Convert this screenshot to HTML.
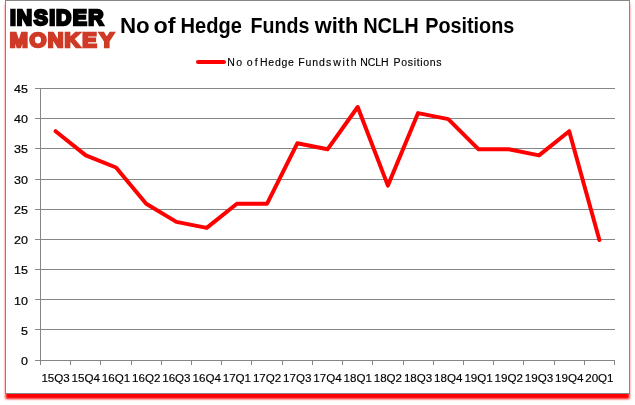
<!DOCTYPE html>
<html lang="en"><head><meta charset="utf-8"><title>No of Hedge Funds with NCLH Positions</title>
<style>html,body{margin:0;padding:0;background:#fff}svg{display:block}text{font-family:"Liberation Sans",sans-serif;font-kerning:none}</style></head><body>
<svg width="635" height="405" viewBox="0 0 635 405">
<defs><filter id="b" x="-5%" y="-5%" width="110%" height="110%"><feGaussianBlur stdDeviation="1.3"/></filter></defs>
<rect x="5.5" y="4" width="624" height="395" fill="#f00" filter="url(#b)"/>
<rect x="5.5" y="0.5" width="624" height="393" fill="#fff" stroke="#868686" stroke-width="1"/>
<g stroke="#868686" stroke-width="1" shape-rendering="crispEdges">
<line x1="35" y1="360.5" x2="615" y2="360.5"/>
<line x1="35" y1="329.5" x2="615" y2="329.5"/>
<line x1="35" y1="299.5" x2="615" y2="299.5"/>
<line x1="35" y1="269.5" x2="615" y2="269.5"/>
<line x1="35" y1="239.5" x2="615" y2="239.5"/>
<line x1="35" y1="209.5" x2="615" y2="209.5"/>
<line x1="35" y1="179.5" x2="615" y2="179.5"/>
<line x1="35" y1="148.5" x2="615" y2="148.5"/>
<line x1="35" y1="118.5" x2="615" y2="118.5"/>
<line x1="35" y1="88.5" x2="615" y2="88.5"/>
<line x1="40.5" y1="88.5" x2="40.5" y2="360.5"/>
<line x1="40.5" y1="360.5" x2="40.5" y2="365"/>
<line x1="70.5" y1="360.5" x2="70.5" y2="365"/>
<line x1="100.5" y1="360.5" x2="100.5" y2="365"/>
<line x1="131.5" y1="360.5" x2="131.5" y2="365"/>
<line x1="161.5" y1="360.5" x2="161.5" y2="365"/>
<line x1="191.5" y1="360.5" x2="191.5" y2="365"/>
<line x1="221.5" y1="360.5" x2="221.5" y2="365"/>
<line x1="251.5" y1="360.5" x2="251.5" y2="365"/>
<line x1="282.5" y1="360.5" x2="282.5" y2="365"/>
<line x1="312.5" y1="360.5" x2="312.5" y2="365"/>
<line x1="342.5" y1="360.5" x2="342.5" y2="365"/>
<line x1="372.5" y1="360.5" x2="372.5" y2="365"/>
<line x1="403.5" y1="360.5" x2="403.5" y2="365"/>
<line x1="433.5" y1="360.5" x2="433.5" y2="365"/>
<line x1="463.5" y1="360.5" x2="463.5" y2="365"/>
<line x1="493.5" y1="360.5" x2="493.5" y2="365"/>
<line x1="523.5" y1="360.5" x2="523.5" y2="365"/>
<line x1="554.5" y1="360.5" x2="554.5" y2="365"/>
<line x1="584.5" y1="360.5" x2="584.5" y2="365"/>
<line x1="614.5" y1="360.5" x2="614.5" y2="365"/>
</g>
<g font-size="11.5" fill="#000" stroke="#000" stroke-width="0.2" text-anchor="end">
<text transform="translate(28,365.0) scale(1.09,1)">0</text>
<text transform="translate(28,334.8) scale(1.09,1)">5</text>
<text transform="translate(28,304.6) scale(1.09,1)">10</text>
<text transform="translate(28,274.3) scale(1.09,1)">15</text>
<text transform="translate(28,244.1) scale(1.09,1)">20</text>
<text transform="translate(28,213.9) scale(1.09,1)">25</text>
<text transform="translate(28,183.7) scale(1.09,1)">30</text>
<text transform="translate(28,153.4) scale(1.09,1)">35</text>
<text transform="translate(28,123.2) scale(1.09,1)">40</text>
<text transform="translate(28,93.0) scale(1.09,1)">45</text>
</g>
<g font-size="11.6" fill="#000" stroke="#000" stroke-width="0.15" text-anchor="middle">
<text x="55.6" y="382.0">15Q3</text>
<text x="85.8" y="382.0">15Q4</text>
<text x="116.0" y="382.0">16Q1</text>
<text x="146.2" y="382.0">16Q2</text>
<text x="176.4" y="382.0">16Q3</text>
<text x="206.7" y="382.0">16Q4</text>
<text x="236.9" y="382.0">17Q1</text>
<text x="267.1" y="382.0">17Q2</text>
<text x="297.3" y="382.0">17Q3</text>
<text x="327.5" y="382.0">17Q4</text>
<text x="357.7" y="382.0">18Q1</text>
<text x="387.9" y="382.0">18Q2</text>
<text x="418.1" y="382.0">18Q3</text>
<text x="448.3" y="382.0">18Q4</text>
<text x="478.6" y="382.0">19Q1</text>
<text x="508.8" y="382.0">19Q2</text>
<text x="539.0" y="382.0">19Q3</text>
<text x="569.2" y="382.0">19Q4</text>
<text x="599.4" y="382.0">20Q1</text>
</g>
<polyline points="55.6,131.2 85.8,155.4 116.0,167.5 146.2,203.7 176.4,221.9 206.7,227.9 236.9,203.7 267.1,203.7 297.3,143.3 327.5,149.3 357.7,107.0 387.9,185.6 418.1,113.1 448.3,119.1 478.6,149.3 508.8,149.3 539.0,155.4 569.2,131.2 599.4,240.0" fill="none" stroke="#f00" stroke-width="4" stroke-linecap="round" stroke-linejoin="round"/>
<text y="32.6" font-size="21.5" font-weight="bold" fill="#000"><tspan x="120.01" textLength="29.77" lengthAdjust="spacingAndGlyphs">No</tspan> <tspan x="153.59" textLength="22.07" lengthAdjust="spacingAndGlyphs">of</tspan> <tspan x="180.46" textLength="61.43" lengthAdjust="spacingAndGlyphs">Hedge</tspan> <tspan x="250.59" textLength="58.82" lengthAdjust="spacingAndGlyphs">Funds</tspan> <tspan x="314.76" textLength="43.69" lengthAdjust="spacingAndGlyphs">with</tspan> <tspan x="363.16" textLength="55.59" lengthAdjust="spacingAndGlyphs">NCLH</tspan> <tspan x="425.18" textLength="89.14" lengthAdjust="spacingAndGlyphs">Positions</tspan></text>
<line x1="198" y1="62" x2="224" y2="62" stroke="#f00" stroke-width="4" stroke-linecap="round"/>
<text transform="scale(0.9,1)" x="252.60 262.43 268.94 274.06 282.95 286.21 288.93 298.16 305.44 312.73 320.01 326.52 331.26 339.46 347.02 354.57 362.13 367.98 370.24 380.45 384.80 389.81 396.32 400.26 408.62 416.98 423.39 431.84 437.37 445.90 453.13 459.71 463.03 467.01 470.33 477.56 484.79" y="66" font-size="11.7" fill="#000" stroke="#000" stroke-width="0.15">No of Hedge Funds with NCLH Positions</text>
<text transform="scale(0.9997,1)" x="9.98 16.74 33.71 49.30 56.06 72.76 88.35" y="25.0" font-size="21.2" font-weight="bold" fill="#000" stroke="#000" stroke-width="2.4" stroke-linejoin="miter">INSIDER</text>
<text transform="scale(1.0607,1)" x="9.26 27.75 45.09 60.76 77.63 93.78" y="47.0" font-size="20.5" font-weight="bold" fill="#cf3a27" stroke="#cf3a27" stroke-width="2.4" stroke-linejoin="miter">MONKEY</text>
</svg></body></html>
